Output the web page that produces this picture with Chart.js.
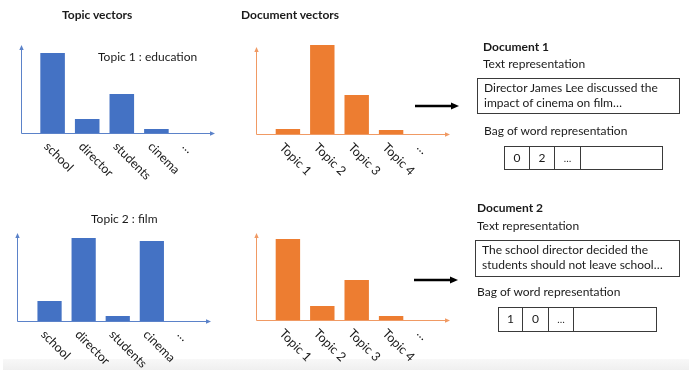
<!DOCTYPE html>
<html>
<head>
<meta charset="utf-8">
<script src="https://cdn.jsdelivr.net/npm/chart.js@4.4.1/dist/chart.umd.min.js"></script>
<style>
  html, body { margin: 0; padding: 0; background: #ffffff; }
  #stage { position: relative; width: 689px; height: 370px; overflow: hidden; font-family: Lato, "Open Sans", sans-serif; color: #1a1a1a; }
  canvas { position: absolute; z-index: 1; }
  .t { position: absolute; white-space: nowrap; font-size: 12px; line-height: 14px; z-index: 2; }
  .b { font-weight: bold; }
  .box { position: absolute; border: 1px solid #3a3a3a; box-sizing: border-box; padding: 2px 0 0 6px; z-index: 2; }
  .box div { font-size: 12px; line-height: 14.5px; white-space: nowrap; }
  .bow { position: absolute; display: flex; border: 1px solid #3a3a3a; box-sizing: border-box; z-index: 2; }
  .bow div { border-right: 1px solid #3a3a3a; box-sizing: border-box; text-align: center; font-size: 12px; line-height: 22px; }
  .bow div:last-child { border-right: none; flex: 1; }
  #band { position: absolute; left: 3px; right: 0; top: 359px; height: 11px; background: linear-gradient(#f8f8f8, #efefef); z-index: 0; }
  svg { z-index: 2; }
</style>
</head>
<body>
<div id="stage">
  <div id="band"></div>
  <canvas id="c1" width="230" height="190" style="left:0;top:0;width:230px;height:190px"></canvas>
  <canvas id="c2" width="230" height="190" style="left:230px;top:0;width:230px;height:190px"></canvas>
  <canvas id="c3" width="230" height="180" style="left:0;top:190px;width:230px;height:180px"></canvas>
  <canvas id="c4" width="230" height="180" style="left:230px;top:190px;width:230px;height:180px"></canvas>

  <div class="t b" style="left:62px;top:8px">Topic vectors</div>
  <div class="t b" style="left:241px;top:8px">Document vectors</div>
  <div class="t" style="left:98px;top:50px">Topic 1 : education</div>
  <div class="t" style="left:91px;top:212px">Topic 2 : film</div>

  <div class="t b" style="left:483px;top:40px">Document 1</div>
  <div class="t" style="left:483px;top:57px">Text representation</div>
  <div class="box" style="left:477px;top:78px;width:203px;height:36px">
    <div>Director James Lee discussed the</div>
    <div>impact of cinema on film…</div>
  </div>
  <div class="t" style="left:484px;top:124px">Bag of word representation</div>
  <div class="bow" style="left:504px;top:146px;width:159px;height:24px">
    <div style="width:25px">0</div><div style="width:25px">2</div><div style="width:26px;font-size:10px">…</div><div></div>
  </div>

  <div class="t b" style="left:477px;top:201px">Document 2</div>
  <div class="t" style="left:477px;top:219px">Text representation</div>
  <div class="box" style="left:475px;top:240px;width:205px;height:37px">
    <div>The school director decided the</div>
    <div>students should not leave school…</div>
  </div>
  <div class="t" style="left:477px;top:285px">Bag of word representation</div>
  <div class="bow" style="left:498px;top:307px;width:159px;height:25px">
    <div style="width:24px">1</div><div style="width:26px">0</div><div style="width:25px;font-size:10px">…</div><div></div>
  </div>

  <svg style="position:absolute;left:0;top:0" width="689" height="370">
    <line x1="415" y1="106" x2="452" y2="106" stroke="#000" stroke-width="2.6"/>
    <polygon points="459,106 451,102.5 451,109.5" fill="#000"/>
    <line x1="414" y1="280" x2="451" y2="280" stroke="#000" stroke-width="2.6"/>
    <polygon points="458,280 450,276.5 450,283.5" fill="#000"/>
  </svg>
</div>

<script>
// ---- data ----
const wordCategories = ['school', 'director', 'students', 'cinema', '…'];
const topicCategories = ['Topic 1', 'Topic 2', 'Topic 3', 'Topic 4', '…'];
const topic1Education = [85.1, 14.9, 41.5, 4.3, null];
const topic2Film = [21.3, 88.3, 5.3, 85.1, null];
const document1Topics = [5.3, 94.7, 41.5, 4.3, null];
const document2Topics = [86.2, 14.9, 42.6, 4.3, null];

const BLUE = '#4472C4';
const ORANGE = '#ED7D31';

const axesPlugin = {
  id: 'diagramAxes',
  beforeDatasetsDraw(chart, args, o) {
    const ctx = chart.ctx;
    const y = chart.scales.y;
    const base = y.getPixelForValue(0);
    ctx.save();
    ctx.strokeStyle = o.axisColor;
    ctx.fillStyle = o.axisColor;
    ctx.lineWidth = 1;
    ctx.beginPath();
    ctx.moveTo(o.axisX, base + 0.5);
    ctx.lineTo(o.axisX, o.axisTop + 3);
    ctx.moveTo(o.axisX, base + 0.5);
    ctx.lineTo(o.axisRight - 3, base + 0.5);
    ctx.stroke();
    ctx.beginPath();
    ctx.moveTo(o.axisX, o.axisTop);
    ctx.lineTo(o.axisX - 2.2, o.axisTop + 5);
    ctx.lineTo(o.axisX + 2.2, o.axisTop + 5);
    ctx.closePath();
    ctx.fill();
    ctx.beginPath();
    ctx.moveTo(o.axisRight, base + 0.5);
    ctx.lineTo(o.axisRight - 5, base + 0.5 - 2.2);
    ctx.lineTo(o.axisRight - 5, base + 0.5 + 2.2);
    ctx.closePath();
    ctx.fill();
    ctx.restore();
  },
  afterDatasetsDraw(chart, args, o) {
    const ctx = chart.ctx;
    const x = chart.scales.x;
    const base = chart.scales.y.getPixelForValue(0);
    ctx.save();
    ctx.fillStyle = '#1a1a1a';
    ctx.font = '12.5px Lato';
    ctx.textAlign = 'left';
    ctx.textBaseline = 'top';
    x.getLabels().forEach((lab, i) => {
      const px = x.getPixelForValue(i);
      ctx.save();
      ctx.translate(px - 2, base + 7);
      ctx.rotate(Math.PI / 4);
      ctx.fillText(lab, 0, 0);
      ctx.restore();
    });
    ctx.restore();
  }
};

function makeChart(id, labels, values, color, axisColor, padding, axis) {
  return new Chart(document.getElementById(id), {
    type: 'bar',
    data: {
      labels: labels,
      datasets: [{ data: values, backgroundColor: color, borderWidth: 0, barPercentage: 0.71, categoryPercentage: 1 }]
    },
    options: {
      responsive: false,
      animation: false,
      events: [],
      layout: { padding: padding },
      plugins: {
        legend: { display: false },
        tooltip: { enabled: false },
        diagramAxes: Object.assign({ axisColor: axisColor }, axis)
      },
      scales: {
        x: { display: false },
        y: { display: false, min: 0, max: 100 }
      }
    },
    plugins: [axesPlugin]
  });
}

makeChart('c1', wordCategories, topic1Education, BLUE, '#5b82c9',
  { left: 35.3, right: 21.7, top: 39, bottom: 57 },
  { axisX: 21.5, axisTop: 45, axisRight: 215 });
makeChart('c2', topicCategories, document1Topics, ORANGE, '#f09a64',
  { left: 40.7, right: 17.3, top: 40, bottom: 56 },
  { axisX: 26.5, axisTop: 47, axisRight: 220 });
makeChart('c3', wordCategories, topic2Film, BLUE, '#5b82c9',
  { left: 32.5, right: 27, top: 37, bottom: 49 },
  { axisX: 17.5, axisTop: 43, axisRight: 211 });
makeChart('c4', topicCategories, document2Topics, ORANGE, '#f09a64',
  { left: 40.7, right: 17.3, top: 36, bottom: 50 },
  { axisX: 26.5, axisTop: 43, axisRight: 220 });
</script>
</body>
</html>
